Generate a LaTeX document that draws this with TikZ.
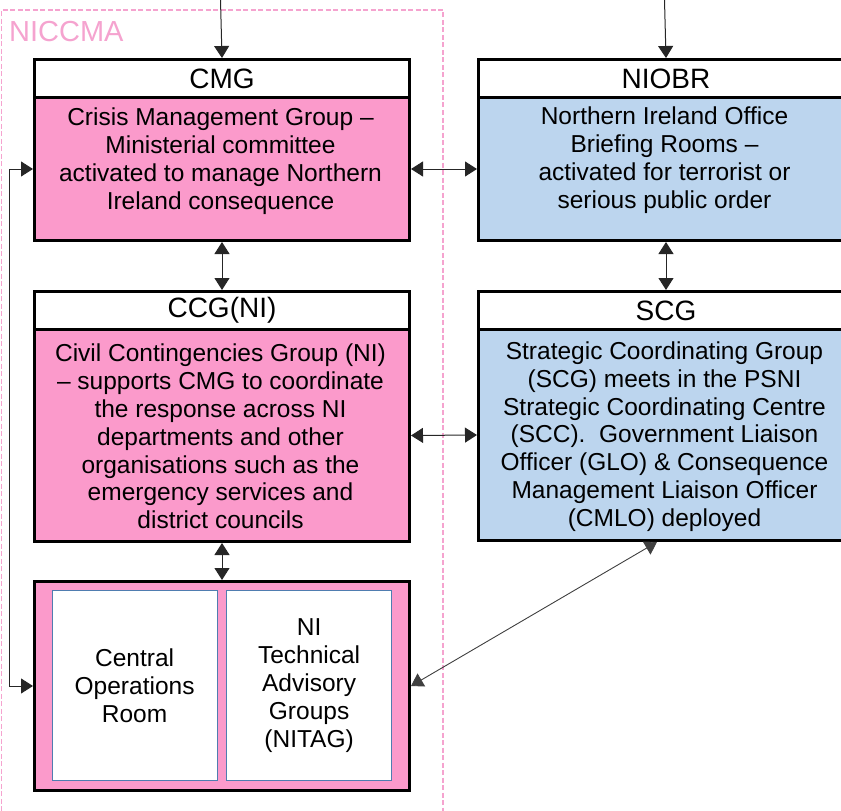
\documentclass[tikz,border=0pt]{standalone}
\usepackage{fontspec}
\setmainfont{Liberation Sans}
\usetikzlibrary{arrows.meta,calc}
\definecolor{pinkfill}{HTML}{FB9ACB}
\definecolor{bluefill}{HTML}{BCD5EE}
\definecolor{framepink}{HTML}{F5A3CF}
\definecolor{innerblue}{HTML}{4F7DB0}
\tikzset{
  titlebox/.style={draw=black,line width=3pt,fill=white,anchor=north west,minimum width=375pt,minimum height=38pt,inner sep=0pt,font=\fontsize{28}{30}\selectfont},
  pinkbody/.style={draw=black,line width=3pt,fill=pinkfill,anchor=north west,minimum width=375pt,inner sep=0pt},
  bluebody/.style={draw=black,line width=3pt,fill=bluefill,anchor=north west,minimum width=375pt,inner sep=0pt},
  bodytext/.style={align=center,inner sep=0pt,font=\fontsize{24.5}{27.8}\selectfont},
  innerbox/.style={draw=innerblue,line width=1.2pt,fill=white,anchor=north west,minimum width=165pt,minimum height=190pt,inner sep=0pt,align=center,font=\fontsize{24.5}{27.8}\selectfont},
  conn/.style={line width=1pt,draw=black!85,{Triangle[length=12pt,width=15pt]}-{Triangle[length=12pt,width=15pt]}},
  inarrow/.style={line width=1pt,draw=black!85,-{Triangle[length=12pt,width=15pt]}}
}
\begin{document}
\begin{tikzpicture}[x=1pt,y=-1pt]
\useasboundingbox (0,0) rectangle (841,811);
% frame
\draw[framepink,line width=1.4pt,dash pattern=on 5pt off 2.5pt] (1.5,811) -- (1.5,10) -- (443,10) -- (443,811);
\node[anchor=base west,inner sep=0pt,text=framepink,font=\fontsize{29}{31}\selectfont] (niccma) at (9,41) {NICCMA};
% CMG
\node[titlebox] (cmgt) at (33,58) {CMG};
\node[pinkbody,minimum height=143pt] (cmgb) at (33,96) {};
\node[bodytext] (cmgx) at (220.5,161) {Crisis Management Group –\\Ministerial committee\\activated to manage Northern\\Ireland consequence};
% NIOBR
\node[titlebox] (niobrt) at (477,58) {NIOBR};
\node[bluebody,minimum height=143pt] (niobrb) at (477,96) {};
\node[bodytext] (niobrx) at (664.5,160) {Northern Ireland Office\\Briefing Rooms –\\activated for terrorist or\\serious public order};
% CCG
\node[titlebox] (ccgt) at (33,290) {CCG(NI)};
\node[pinkbody,minimum height=212pt] (ccgb) at (33,328) {};
\node[bodytext] (ccgx) at (220.5,436.5) {Civil Contingencies Group (NI)\\– supports CMG to coordinate\\the response across NI\\departments and other\\organisations such as the\\emergency services and\\district councils};
% SCG
\node[titlebox] (scgt) at (477,290) {SCG};
\node[bluebody,minimum height=211pt] (scgb) at (477,328) {};
\node[bodytext] (scgx) at (664.5,436.5) {Strategic Coordinating Group\\(SCG) meets in the PSNI\\Strategic Coordinating Centre\\(SCC).\ \ Government Liaison\\Officer (GLO) \& Consequence\\Management Liaison Officer\\(CMLO) deployed};
% bottom
\node[pinkbody,minimum height=209pt] (bot) at (33,580) {};
\node[innerbox] (cor) at (51.5,590) {Central\\Operations\\Room};
\node[innerbox] (nitag) at (226,590) {NI\\Technical\\Advisory\\Groups\\(NITAG)};
% connectors
\coordinate (topa) at (220.5,0);
\coordinate (topb) at (664.5,0);
\coordinate (lp) at (9,0);
\draw[inarrow] (topa) -- (cmgt.north);
\draw[inarrow] (topb) -- (niobrt.north);
\draw[conn] (cmgb.east) -- (niobrb.west);
\draw[conn] (cmgb.south) -- (ccgt.north);
\draw[conn] (niobrb.south) -- (scgt.north);
\draw[conn] (ccgb.east) -- (scgb.west);
\draw[conn] (ccgb.south) -- (bot.north);
\draw[conn] (cmgb.west) -- (cmgb.west -| lp) -- (bot.west -| lp) -- (bot.west);
\draw[conn,draw=black!75,line width=0.9pt] (bot.east) -- ([xshift=-9pt]scgb.south);
\end{tikzpicture}
\end{document}
